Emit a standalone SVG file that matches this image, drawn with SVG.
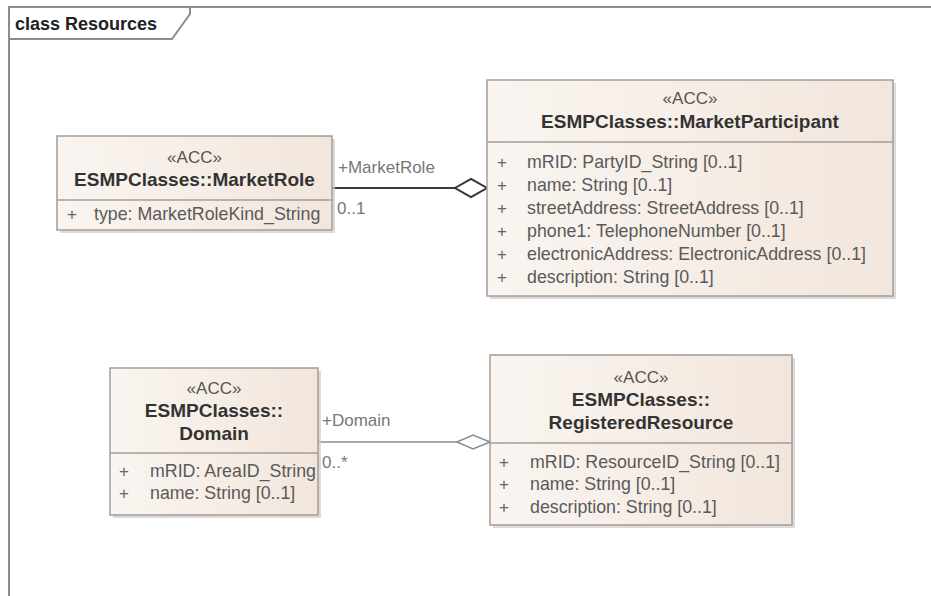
<svg xmlns="http://www.w3.org/2000/svg" width="931" height="596" viewBox="0 0 931 596">
<defs>
<linearGradient id="fillG" x1="0" y1="0" x2="1" y2="0">
<stop offset="0" stop-color="#faf5f1"/>
<stop offset="1" stop-color="#f2e6dc"/>
</linearGradient>
</defs>
<style>
text{font-family:"Liberation Sans",Arial,sans-serif}
.box{fill:url(#fillG);stroke:#a59d98;stroke-width:1.5}
.shadow{fill:#cfcaca;opacity:0.7}
.div{stroke:#a59d98;stroke-width:1.5}
.st{font-size:17px;fill:#555;text-anchor:middle}
.ti{font-size:19px;font-weight:bold;fill:#333;text-anchor:middle}
.at{font-size:17.8px;fill:#5a5a5a}
.pl{font-size:17px;fill:#666;text-anchor:middle}
.lbl{font-size:17px;fill:#777}
.frame{fill:none;stroke:#8c8c8c;stroke-width:2}
</style>
<rect width="931" height="596" fill="#ffffff"/>
<g id="frame">
<path class="frame" d="M9,596 V7 H931"/>
<path class="frame" d="M9,39 H172 L190,14 V7"/>
<text x="15" y="30" font-size="18" font-weight="bold" fill="#222">class Resources</text>
</g>
<g id="connectors">
<line x1="332" y1="188" x2="455" y2="188" stroke="#3c3c3c" stroke-width="2.2"/>
<polygon points="455,188 471,179 487,188 471,197" fill="#fff" stroke="#333" stroke-width="2"/>
<text class="lbl" x="338" y="173">+MarketRole</text>
<text class="lbl" x="337" y="214">0..1</text>
<line x1="318" y1="442" x2="457" y2="442" stroke="#8a8d99" stroke-width="1.6"/>
<polygon points="457,442 473,435 490,442 473,449" fill="#fff" stroke="#8a8d99" stroke-width="1.6"/>
<text class="lbl" x="322" y="426">+Domain</text>
<text class="lbl" x="322" y="468">0..*</text>
</g>
<g id="MarketRole">
<rect class="shadow" x="60" y="139" width="275" height="94"/>
<rect class="box" x="57" y="136" width="275" height="94"/>
<line class="div" x1="57" y1="200" x2="332" y2="200"/>
<text class="st" x="194.5" y="163">«ACC»</text>
<text class="ti" x="194.5" y="186">ESMPClasses::MarketRole</text>
<text class="pl" x="72" y="220">+</text>
<text class="at" x="94" y="220">type: MarketRoleKind_String</text>
</g>
<g id="MarketParticipant">
<rect class="shadow" x="490" y="83" width="406" height="216"/>
<rect class="box" x="487" y="80" width="406" height="216"/>
<line class="div" x1="487" y1="142" x2="893" y2="142"/>
<text class="st" x="690" y="104">«ACC»</text>
<text class="ti" x="690" y="128">ESMPClasses::MarketParticipant</text>
<text class="pl" x="502" y="168">+</text>
<text class="pl" x="502" y="191">+</text>
<text class="pl" x="502" y="214">+</text>
<text class="pl" x="502" y="237">+</text>
<text class="pl" x="502" y="260">+</text>
<text class="pl" x="502" y="283">+</text>
<text class="at" x="527" y="168">mRID: PartyID_String [0..1]</text>
<text class="at" x="527" y="191">name: String [0..1]</text>
<text class="at" x="527" y="214">streetAddress: StreetAddress [0..1]</text>
<text class="at" x="527" y="237">phone1: TelephoneNumber [0..1]</text>
<text class="at" x="527" y="260">electronicAddress: ElectronicAddress [0..1]</text>
<text class="at" x="527" y="283">description: String [0..1]</text>
</g>
<g id="Domain">
<rect class="shadow" x="113" y="371" width="208" height="147"/>
<rect class="box" x="110" y="368" width="208" height="147"/>
<line class="div" x1="110" y1="453" x2="318" y2="453"/>
<text class="st" x="214" y="394">«ACC»</text>
<text class="ti" x="214" y="417">ESMPClasses::</text>
<text class="ti" x="214" y="440">Domain</text>
<text class="pl" x="124" y="477">+</text>
<text class="pl" x="124" y="499">+</text>
<text class="at" x="150" y="477">mRID: AreaID_String</text>
<text class="at" x="150" y="499">name: String [0..1]</text>
</g>
<g id="RegisteredResource">
<rect class="shadow" x="493" y="358" width="302" height="170"/>
<rect class="box" x="490" y="355" width="302" height="170"/>
<line class="div" x1="490" y1="443" x2="792" y2="443"/>
<text class="st" x="641" y="383">«ACC»</text>
<text class="ti" x="641" y="406">ESMPClasses::</text>
<text class="ti" x="641" y="429">RegisteredResource</text>
<text class="pl" x="504" y="468">+</text>
<text class="pl" x="504" y="490">+</text>
<text class="pl" x="504" y="513">+</text>
<text class="at" x="530" y="468">mRID: ResourceID_String [0..1]</text>
<text class="at" x="530" y="490">name: String [0..1]</text>
<text class="at" x="530" y="513">description: String [0..1]</text>
</g>
</svg>
